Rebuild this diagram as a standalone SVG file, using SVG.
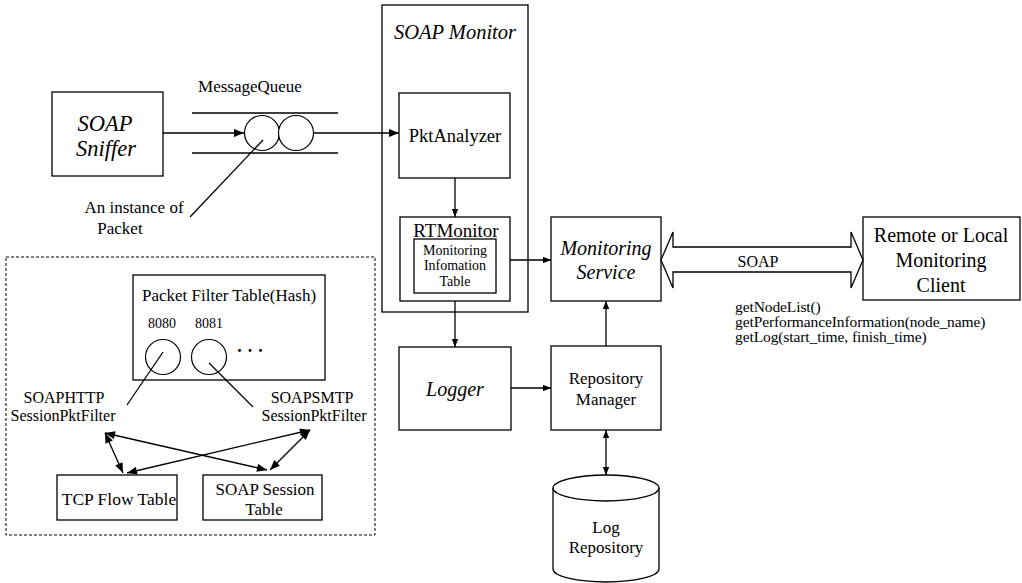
<svg xmlns="http://www.w3.org/2000/svg" width="1022" height="583" viewBox="0 0 1022 583">
<style>
.box{fill:#fff;stroke:#000;stroke-width:1.3}
.ln{fill:none;stroke:#000;stroke-width:1.3}
text{font-family:"Liberation Serif","Times New Roman","DejaVu Serif",serif;fill:#000}
.t{text-anchor:middle;dominant-baseline:central}
.i{font-style:italic}
.m{font-size:15.5px;letter-spacing:-0.1px}
</style>
<defs>
<marker id="ah" viewBox="0 0 10 8" refX="10" refY="4" markerWidth="11" markerHeight="8" markerUnits="userSpaceOnUse" orient="auto-start-reverse">
<path d="M0,0 L10,4 L0,8 Z" fill="#000"/>
</marker>
<marker id="ahs" viewBox="0 0 10 8" refX="10" refY="4" markerWidth="8" markerHeight="7" markerUnits="userSpaceOnUse" orient="auto-start-reverse">
<path d="M0,0 L10,4 L0,8 Z" fill="#000"/>
</marker>
</defs>
<rect width="1022" height="583" fill="#fff"/>

<g id="filter-group">
<rect x="6" y="257" width="369" height="278" fill="none" stroke="#000" stroke-width="1" stroke-dasharray="3,2"/>
</g>

<g id="soap-monitor">
<rect class="box" x="382" y="5" width="146" height="307"/>
<text class="t i" x="455" y="32" font-size="20.5">SOAP Monitor</text>
</g>

<g id="soap-sniffer">
<rect class="box" x="52" y="92" width="111" height="84"/>
<text class="t i" x="105" y="123" font-size="22.5">SOAP</text>
<text class="t i" x="106" y="148" font-size="22.5">Sniffer</text>
</g>

<g id="message-queue">
<text class="t" x="250" y="86" font-size="17">MessageQueue</text>
<line class="ln" x1="192" y1="113" x2="338" y2="113"/>
<line class="ln" x1="192" y1="153" x2="338" y2="153"/>
<circle cx="262" cy="133" r="17.5" fill="#fff" stroke="#000" stroke-width="1.2"/>
<circle cx="296" cy="133" r="17.5" fill="#fff" stroke="#000" stroke-width="1.2"/>
</g>

<g id="instance-label">
<text class="t" x="134" y="207" font-size="17">An instance of</text>
<text class="t" x="120" y="228" font-size="17">Packet</text>
</g>

<g id="pkt-analyzer">
<rect class="box" x="399" y="93" width="111" height="85"/>
<text class="t" x="455" y="136" font-size="18.5">PktAnalyzer</text>
</g>

<g id="rt-monitor">
<rect class="box" x="400" y="217" width="110" height="84"/>
<text class="t" x="456" y="230" font-size="19">RTMonitor</text>
<rect class="box" x="414" y="239" width="82" height="54"/>
<text class="t" x="455" y="250" font-size="14">Monitoring</text>
<text class="t" x="455" y="265" font-size="14">Infomation</text>
<text class="t" x="455" y="281" font-size="14">Table</text>
</g>

<g id="monitoring-service">
<rect class="box" x="551" y="217" width="110" height="84"/>
<text class="t i" x="606" y="248" font-size="20">Monitoring</text>
<text class="t i" x="606" y="272" font-size="20">Service</text>
</g>

<g id="remote-client">
<rect class="box" x="863" y="217" width="157" height="83"/>
<text class="t" x="941" y="235" font-size="20">Remote or Local</text>
<text class="t" x="941" y="260" font-size="20">Monitoring</text>
<text class="t" x="941" y="285" font-size="20">Client</text>
</g>

<g id="methods">
<text class="m" x="735" y="312">getNodeList()</text>
<text class="m" x="735" y="327">getPerformanceInformation(node_name)</text>
<text class="m" x="735" y="342">getLog(start_time, finish_time)</text>
</g>

<g id="logger">
<rect class="box" x="399" y="347" width="112" height="83"/>
<text class="t i" x="455" y="389" font-size="20">Logger</text>
</g>

<g id="repository-manager">
<rect class="box" x="551" y="346" width="110" height="84"/>
<text class="t" x="606" y="378" font-size="17">Repository</text>
<text class="t" x="606" y="399" font-size="17">Manager</text>
</g>

<g id="log-repository">
<path d="M553,488 L553,569 A53,13 0 0 0 659,569 L659,488" fill="#fff" stroke="#000" stroke-width="1.3"/>
<ellipse cx="606" cy="488" rx="53" ry="13" fill="#fff" stroke="#000" stroke-width="1.3"/>
<text class="t" x="606" y="527" font-size="17">Log</text>
<text class="t" x="606" y="547" font-size="17">Repository</text>
</g>

<g id="packet-filter-table">
<rect class="box" x="133" y="275" width="192" height="105"/>
<text class="t" x="229" y="295" font-size="17">Packet Filter Table(Hash)</text>
<text class="t" x="162" y="323" font-size="14">8080</text>
<text class="t" x="209" y="323" font-size="14">8081</text>
<circle cx="163" cy="357" r="17.5" fill="none" stroke="#000" stroke-width="1.2"/>
<circle cx="209" cy="357" r="17.5" fill="none" stroke="#000" stroke-width="1.2"/>
<text class="t" x="250" y="351" font-size="18" font-weight="bold">· · ·</text>
</g>

<g id="http-filter">
<text class="t" x="64" y="397" font-size="16">SOAPHTTP</text>
<text class="t" x="63" y="415" font-size="16">SessionPktFilter</text>
</g>

<g id="smtp-filter">
<text class="t" x="312" y="397" font-size="16">SOAPSMTP</text>
<text class="t" x="314" y="415" font-size="16">SessionPktFilter</text>
</g>

<g id="tcp-flow-table">
<rect class="box" x="57" y="475" width="120" height="45"/>
<text class="t" x="119" y="499" font-size="17.5">TCP Flow Table</text>
</g>

<g id="soap-session-table">
<rect class="box" x="203" y="475" width="119" height="45"/>
<text class="t" x="265" y="489" font-size="17">SOAP Session</text>
<text class="t" x="264" y="509" font-size="17">Table</text>
</g>

<g id="connectors">
<line class="ln" x1="163" y1="133" x2="244" y2="133" marker-end="url(#ah)"/>
<line class="ln" x1="313" y1="133" x2="399" y2="133" marker-end="url(#ah)"/>
<line class="ln" x1="263" y1="140" x2="190" y2="217"/>
<line class="ln" x1="455" y1="178" x2="455" y2="217" marker-end="url(#ahs)"/>
<line class="ln" x1="510" y1="260" x2="551" y2="260" marker-end="url(#ahs)"/>
<line class="ln" x1="455" y1="301" x2="455" y2="347" marker-end="url(#ahs)"/>
<line class="ln" x1="511" y1="388" x2="551" y2="388" marker-end="url(#ahs)"/>
<line class="ln" x1="606" y1="346" x2="606" y2="301" marker-end="url(#ahs)"/>
<line class="ln" x1="606" y1="430" x2="606" y2="475" marker-start="url(#ahs)" marker-end="url(#ahs)"/>
<path d="M661,260 L673,232 L673,247 L851,247 L851,232 L863,260 L851,288 L851,272 L673,272 L673,288 Z" fill="#fff" stroke="#000" stroke-width="1.3"/>
<text class="t" x="758" y="261" font-size="16">SOAP</text>
<line class="ln" x1="163" y1="352" x2="127" y2="405"/>
<line class="ln" x1="209" y1="363" x2="253" y2="407"/>
<line class="ln" x1="105" y1="433" x2="123" y2="473" stroke-width="1.6" marker-start="url(#ah)" marker-end="url(#ah)"/>
<line class="ln" x1="105" y1="433" x2="267" y2="470" stroke-width="1.6" marker-start="url(#ah)" marker-end="url(#ah)"/>
<line class="ln" x1="310" y1="430" x2="127" y2="473" stroke-width="1.6" marker-start="url(#ah)" marker-end="url(#ah)"/>
<line class="ln" x1="310" y1="430" x2="270" y2="470" stroke-width="1.6" marker-start="url(#ah)" marker-end="url(#ah)"/>
</g>
</svg>
